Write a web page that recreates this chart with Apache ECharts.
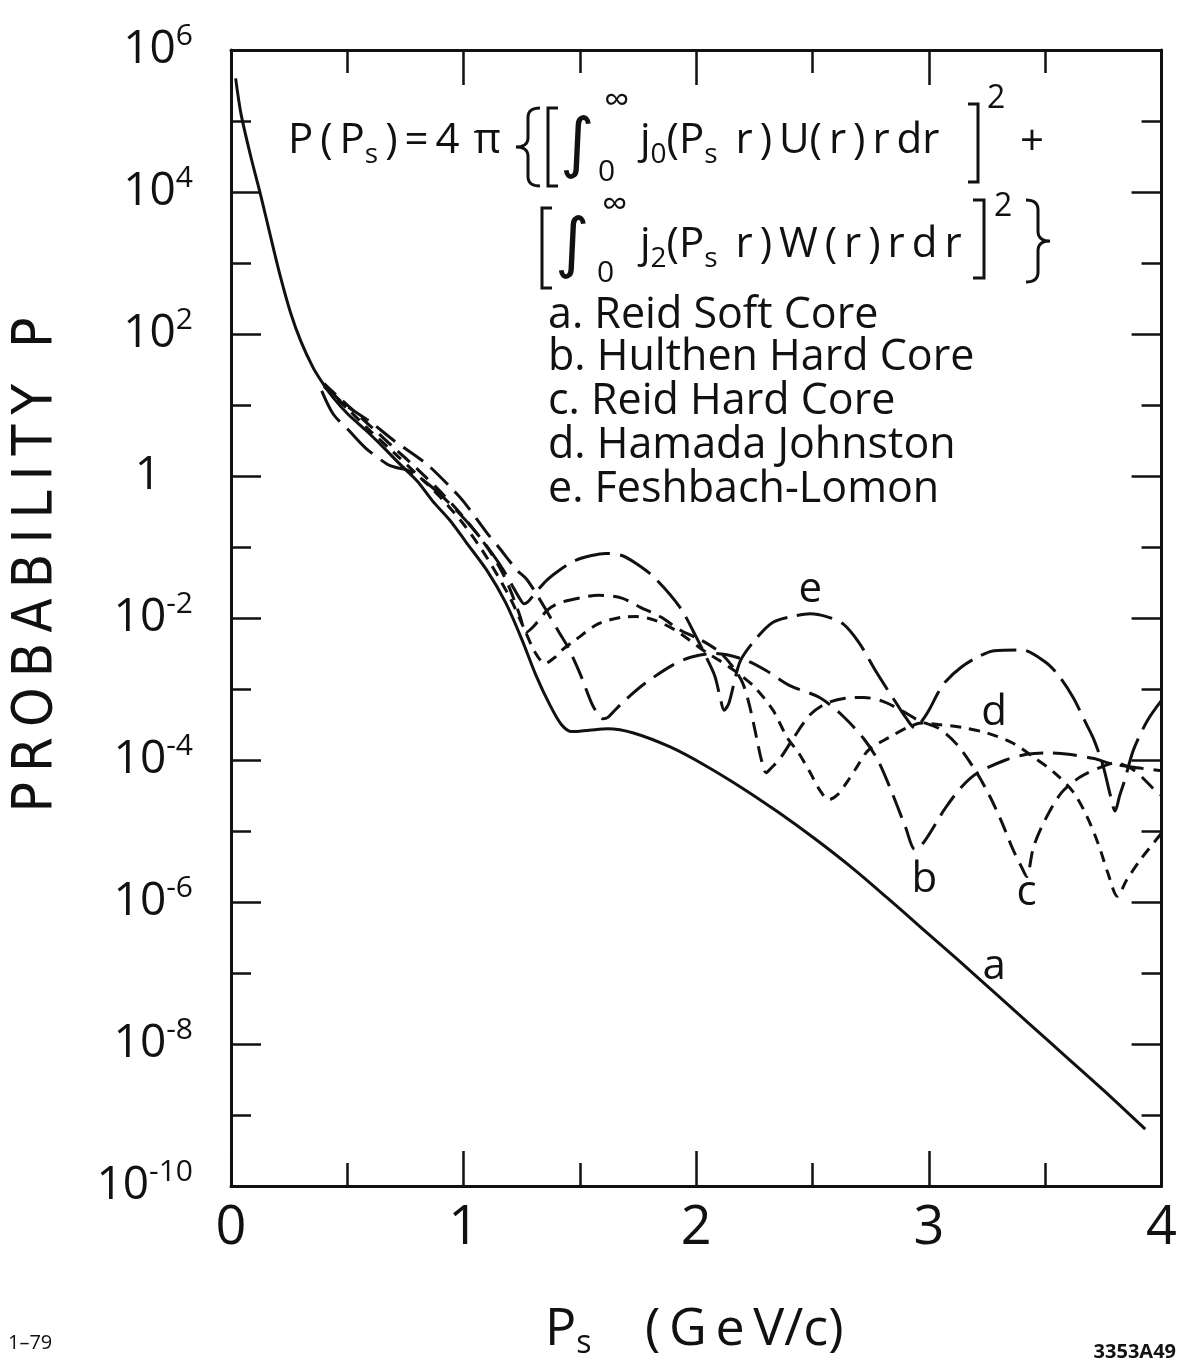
<!DOCTYPE html>
<html><head><meta charset="utf-8">
<script src="https://cdn.jsdelivr.net/npm/echarts@6/dist/echarts.min.js"></script>
<style>html,body{margin:0;padding:0;background:#fff}#c{width:1180px;height:1366px}</style>
</head><body><div id="c"></div>
<script>
// ---------------- data (y values are log10 of probability P) ----------------
const xTickValues = [0, 1, 2, 3, 4];
const yTickExponents = [-10, -8, -6, -4, -2, 0, 2, 4, 6];
const seriesLetters = ['a', 'b', 'c', 'd', 'e'];
const seriesNames = ['Reid Soft Core', 'Hulthen Hard Core', 'Reid Hard Core', 'Hamada Johnston', 'Feshbach-Lomon'];

// a. Reid Soft Core (solid)
const aX = [0.02, 0.043, 0.085, 0.128, 0.171, 0.213, 0.256, 0.30, 0.354, 0.40, 0.44, 0.50, 0.584, 0.65, 0.725, 0.80, 0.866, 0.94, 1.01, 1.10, 1.18, 1.25, 1.31, 1.37, 1.42, 1.465, 1.54, 1.62, 1.73, 1.89, 2.04, 2.20, 2.35, 2.51, 2.67, 2.82, 2.97, 3.13, 3.28, 3.44, 3.59, 3.75, 3.93];
const aLogP = [5.6, 5.1, 4.5, 3.95, 3.36, 2.8, 2.3, 1.9, 1.52, 1.28, 1.1, 0.88, 0.63, 0.42, 0.17, -0.07, -0.35, -0.62, -0.93, -1.33, -1.78, -2.3, -2.8, -3.22, -3.5, -3.6, -3.58, -3.56, -3.62, -3.82, -4.08, -4.4, -4.73, -5.11, -5.52, -5.94, -6.37, -6.83, -7.27, -7.74, -8.18, -8.65, -9.2];

// b. Hulthen Hard Core
const bX = [0.40, 0.48, 0.60, 0.70, 0.84, 0.95, 1.00, 1.10, 1.15, 1.23, 1.27, 1.32, 1.36, 1.41, 1.45, 1.50, 1.55, 1.58, 1.60, 1.62, 1.65, 1.70, 1.78, 1.90, 1.98, 2.08, 2.20, 2.30, 2.40, 2.53, 2.63, 2.72, 2.78, 2.84, 2.90, 2.94, 2.98, 3.07, 3.14, 3.21, 3.33, 3.42, 3.50, 3.60, 3.71, 3.78, 3.87, 4.0];
const bLogP = [1.3, 1.03, 0.76, 0.5, 0.17, -0.18, -0.36, -0.8, -1.0, -1.33, -1.45, -1.7, -1.92, -2.2, -2.42, -2.78, -3.2, -3.37, -3.42, -3.4, -3.3, -3.14, -2.92, -2.66, -2.55, -2.5, -2.58, -2.74, -2.95, -3.12, -3.38, -3.7, -4.0, -4.45, -4.95, -5.26, -5.15, -4.68, -4.38, -4.18, -4.0, -3.92, -3.9, -3.92, -3.98, -4.05, -4.1, -4.15];

// c. Reid Hard Core
const cX = [0.40, 0.50, 0.60, 0.70, 0.80, 0.90, 1.00, 1.10, 1.16, 1.20, 1.24, 1.27, 1.30, 1.36, 1.41, 1.51, 1.58, 1.68, 1.76, 1.85, 1.93, 2.02, 2.10, 2.16, 2.20, 2.23, 2.26, 2.28, 2.30, 2.32, 2.36, 2.42, 2.49, 2.56, 2.64, 2.72, 2.80, 2.88, 2.96, 3.04, 3.12, 3.20, 3.26, 3.31, 3.36, 3.40, 3.42, 3.45, 3.50, 3.57, 3.65, 3.74, 3.80, 3.88, 3.97, 4.0];
const cLogP = [1.3, 1.0, 0.7, 0.4, 0.1, -0.22, -0.58, -1.0, -1.32, -1.6, -1.95, -2.2, -2.12, -1.89, -1.79, -1.71, -1.68, -1.72, -1.85, -1.99, -2.17, -2.31, -2.48, -2.7, -2.92, -3.25, -3.7, -4.0, -4.18, -4.12, -3.98, -3.68, -3.36, -3.2, -3.13, -3.12, -3.17, -3.3, -3.45, -3.55, -3.78, -4.15, -4.5, -4.85, -5.25, -5.52, -5.64, -5.22, -4.84, -4.46, -4.24, -4.1, -4.04, -4.14, -4.42, -4.5];

// d. Hamada Johnston
const dX = [0.40, 0.50, 0.60, 0.70, 0.80, 0.90, 1.00, 1.10, 1.20, 1.26, 1.31, 1.35, 1.39, 1.42, 1.48, 1.58, 1.68, 1.74, 1.82, 1.91, 1.97, 2.05, 2.10, 2.18, 2.25, 2.33, 2.39, 2.44, 2.49, 2.53, 2.57, 2.61, 2.65, 2.69, 2.74, 2.83, 2.91, 2.97, 3.04, 3.14, 3.25, 3.36, 3.45, 3.54, 3.62, 3.68, 3.73, 3.77, 3.81, 3.85, 3.91, 4.0];
const dLogP = [1.26, 0.95, 0.63, 0.33, 0.02, -0.3, -0.68, -1.15, -1.72, -2.15, -2.5, -2.64, -2.56, -2.46, -2.31, -2.08, -1.99, -1.98, -2.03, -2.17, -2.31, -2.5, -2.6, -2.78, -2.97, -3.3, -3.68, -3.9, -4.18, -4.42, -4.56, -4.48, -4.3, -4.1, -3.86, -3.68, -3.54, -3.48, -3.5, -3.54, -3.62, -3.76, -3.96, -4.18, -4.45, -4.8, -5.2, -5.6, -5.92, -5.69, -5.4, -5.03];

// e. Feshbach-Lomon
const eX = [0.39, 0.44, 0.51, 0.58, 0.67, 0.71, 0.76, 0.85, 0.95, 1.05, 1.12, 1.17, 1.21, 1.24, 1.26, 1.28, 1.31, 1.36, 1.41, 1.48, 1.55, 1.61, 1.68, 1.74, 1.82, 1.93, 2.00, 2.05, 2.08, 2.10, 2.12, 2.14, 2.16, 2.19, 2.26, 2.33, 2.41, 2.49, 2.56, 2.63, 2.70, 2.77, 2.82, 2.86, 2.90, 2.94, 2.97, 3.00, 3.04, 3.07, 3.14, 3.21, 3.28, 3.40, 3.50, 3.56, 3.62, 3.67, 3.71, 3.75, 3.78, 3.80, 3.82, 3.84, 3.88, 3.94, 4.0];
const eLogP = [1.2, 0.87, 0.63, 0.39, 0.17, 0.12, 0.08, -0.12, -0.42, -0.78, -1.08, -1.32, -1.55, -1.72, -1.8, -1.76, -1.64, -1.46, -1.33, -1.19, -1.12, -1.09, -1.12, -1.23, -1.43, -1.85, -2.27, -2.6, -2.82, -3.08, -3.3, -3.2, -2.95, -2.6, -2.28, -2.06, -1.98, -1.94, -1.98, -2.08, -2.35, -2.74, -3.0, -3.2, -3.4, -3.55, -3.45, -3.3, -3.05, -2.9, -2.69, -2.55, -2.46, -2.45, -2.62, -2.82, -3.12, -3.45, -3.72, -4.1, -4.5, -4.72, -4.5, -4.3, -3.85, -3.44, -3.16];

// curve letter labels, placed in data coordinates [x, log10 P]
const curveLabelLetters = ['e', 'd', 'b', 'c', 'a'];
const curveLabelX = [2.49, 3.28, 2.98, 3.42, 3.28];
const curveLabelLogP = [-1.61, -3.34, -5.69, -5.87, -6.91];

// ---------------- chart ----------------
const F = "'Open Sans','DejaVu Sans',sans-serif";
const FN = "'Liberation Sans Narrow','DejaVu Sans Condensed','Open Sans',sans-serif";
const INK = '#111';
const pairs = (xs, ys) => xs.map((x, i) => [x, ys[i]]);
const dashes = { a: 'solid', b: [24, 10], c: [16, 9], d: [11, 8], e: [36, 10] };
const dataSets = { a: [aX, aLogP], b: [bX, bLogP], c: [cX, cLogP], d: [dX, dLogP], e: [eX, eLogP] };

const series = seriesLetters.map((k, i) => ({
  name: seriesNames[i],
  type: 'line',
  data: pairs(dataSets[k][0], dataSets[k][1]),
  showSymbol: false,
  smooth: 0.3,
  lineStyle: { color: INK, width: 3, type: dashes[k], cap: 'butt' },
  z: 3
}));

function txt(x, y, text, size, extra) {
  return { type: 'text', x: x, y: y, z: 10, silent: true,
    style: Object.assign({ text: text, fontSize: size, fontFamily: F, fill: INK, align: 'left', verticalAlign: 'middle' }, extra || {}) };
}
function poly(points) {
  return { type: 'polyline', z: 10, silent: true, shape: { points: points }, style: { stroke: INK, lineWidth: 3, fill: null } };
}
function quad(p0, c, p1, out) {
  for (let i = 0; i <= 8; i++) {
    const t = i / 8, u = 1 - t;
    out.push([u * u * p0[0] + 2 * u * t * c[0] + t * t * p1[0], u * u * p0[1] + 2 * u * t * c[1] + t * t * p1[1]]);
  }
}
function brace(xEnd, xm, xTip, t, b) {
  const m = (t + b) / 2, k = (b - t) * 0.12, pts = [];
  quad([xEnd, t], [xm, t], [xm, t + k], pts);
  quad([xm, m - k], [xm, m], [xTip, m], pts);
  quad([xTip, m], [xm, m], [xm, m + k], pts);
  quad([xm, b - k], [xm, b], [xEnd, b], pts);
  return poly(pts);
}
const fRich = {
  m: { fontSize: 42, lineHeight: 56, fontFamily: F, fill: INK },
  s: { fontSize: 28, lineHeight: 24, verticalAlign: 'bottom', fontFamily: F, fill: INK }
};
const T = '\u2009';

const graphic = [
  // line 1 of formula
  txt(288, 141, `{m|P${T}(${T}P}{s|s}{m|${T})${T}=${T}4${T}${T}π}`, 42, { rich: fRich }),
  brace(540, 528, 516, 108, 186),
  poly([[558, 108], [548, 108], [548, 186], [558, 186]]),
  txt(560, 148, '∫', 66, { fontFamily: "'DejaVu Sans',sans-serif" }),
  txt(604, 102, '∞', 36),
  txt(598, 172, '0', 30),
  txt(640, 141, `{m|j}{s|0}{m|(P}{s|s}{m|${T} r${T})${T}U(${T}r${T})${T}r${T}dr}`, 42, { rich: fRich }),
  poly([[968, 104], [978, 104], [978, 182], [968, 182]]),
  txt(987, 99, '2', 32),
  txt(1020, 143, '+', 42),
  // line 2 of formula
  poly([[552, 208], [542, 208], [542, 288], [552, 288]]),
  txt(555, 248, '∫', 66, { fontFamily: "'DejaVu Sans',sans-serif" }),
  txt(602, 206, '∞', 36),
  txt(597, 273, '0', 30),
  txt(640, 245, `{m|j}{s|2}{m|(P}{s|s}{m|${T} r${T})${T}W${T}(${T}r${T})${T}r${T}d${T}r}`, 42, { rich: fRich }),
  poly([[973, 200], [984, 200], [984, 278], [973, 278]]),
  txt(994, 207, '2', 32),
  brace(1026, 1038, 1050, 200, 282),
  // x-axis title and notes
  txt(545, 1330, `{m|P}{s|s}`, 52, { rich: {
    m: { fontSize: 52, lineHeight: 60, fontFamily: F, fill: INK },
    s: { fontSize: 32, lineHeight: 26, verticalAlign: 'bottom', fontFamily: F, fill: INK } } }),
  txt(645, 1330, `(${T}G${T}e${T}V/c)`, 52),
  txt(8, 1343, '1–79', 20),
  txt(1176, 1352, '3353A49', 20, { align: 'right', fontWeight: 'bold' })
];
const yTitle = txt(36, 565, 'PROBABILITY P'.split('').join(T), 56, { align: 'center', fontFamily: FN });
yTitle.rotation = Math.PI / 2;
graphic.push(yTitle);
// legend lines
const legendY = [316, 358, 402, 446, 490];
seriesLetters.forEach((k, i) => graphic.push(txt(548, legendY[i], k + '. ' + seriesNames[i], 43)));

const yLabelFmt = v => {
  if (yTickExponents.indexOf(v) < 0) return '';
  if (v === 0) return '{one|1}';
  return '{b|10}{sup|' + (v < 0 ? '-' + (-v) : v) + '}';
};
const yRich = {
  b: { fontSize: 46, lineHeight: 58, fontFamily: F, color: INK },
  sup: { fontSize: 30, lineHeight: 26, verticalAlign: 'top', fontFamily: F, color: INK },
  one: { fontSize: 46, lineHeight: 58, fontFamily: F, color: INK, padding: [0, 32, 0, 0] }
};
const axLine = { show: true, onZero: false, lineStyle: { color: INK, width: 3 } };
function xAx(pos, labels) {
  return { type: 'value', min: 0, max: 4, interval: 1, position: pos,
    axisLine: axLine,
    axisTick: { show: true, inside: true, length: 35, lineStyle: { color: INK, width: 2.5 } },
    minorTick: { show: true, splitNumber: 2, length: 23, lineStyle: { color: INK, width: 2.5 } },
    splitLine: { show: false }, minorSplitLine: { show: false },
    axisLabel: { show: labels, fontSize: 54, fontFamily: F, color: INK, margin: 16,
      formatter: v => (xTickValues.indexOf(v) >= 0 ? String(v) : '') } };
}
function yAx(pos, labels) {
  return { type: 'value', min: -10, max: 6, interval: 2, position: pos,
    axisLine: axLine,
    axisTick: { show: true, inside: true, length: 30, lineStyle: { color: INK, width: 2.5 } },
    minorTick: { show: true, splitNumber: 2, length: 20, lineStyle: { color: INK, width: 2.5 } },
    splitLine: { show: false }, minorSplitLine: { show: false },
    axisLabel: { show: labels, margin: 38, formatter: yLabelFmt, rich: yRich } };
}

const chart = echarts.init(document.getElementById('c'), null, { renderer: 'canvas' });
chart.setOption({
  animation: false,
  backgroundColor: '#fff',
  grid: { left: 231, right: 11, top: 50, bottom: 180, containLabel: false },
  xAxis: [xAx('bottom', true), xAx('top', false)],
  yAxis: [yAx('left', true), yAx('right', false)],
  series: series,
  graphic: graphic
});
// curve letters positioned through the chart's own axes
const letterEls = curveLabelLetters.map((ch, i) => {
  const p = chart.convertToPixel({ gridIndex: 0 }, [curveLabelX[i], curveLabelLogP[i]]);
  return txt(p[0], p[1], ch, 42, { align: 'center' });
});
chart.setOption({ graphic: graphic.concat(letterEls) });
</script></body></html>
